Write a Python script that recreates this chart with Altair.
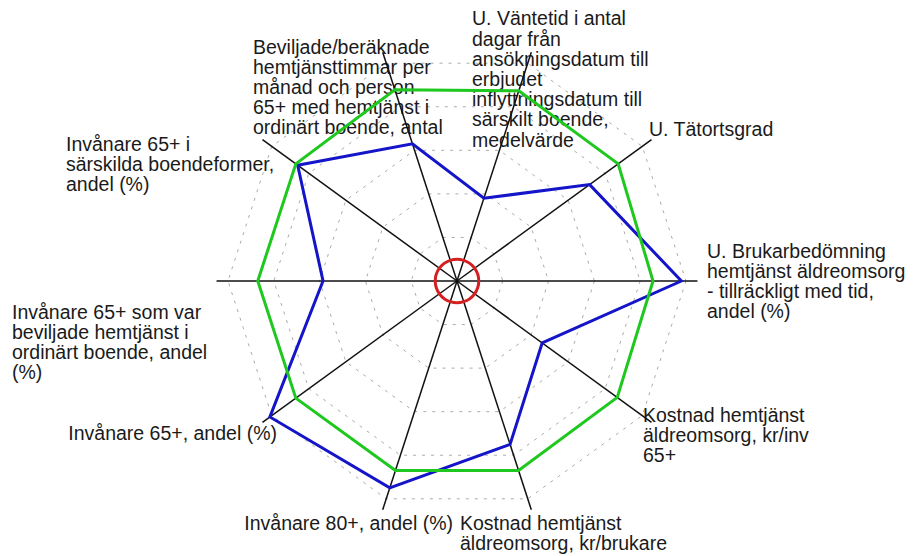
import math
import altair as alt
import pandas as pd

# ---- data -------------------------------------------------------------
categories = [
    "U. Brukarbedömning\nhemtjänst äldreomsorg\n- tillräckligt med tid,\nandel (%)",
    "Kostnad hemtjänst\näldreomsorg, kr/inv\n65+",
    "Kostnad hemtjänst\näldreomsorg, kr/brukare",
    "Invånare 80+, andel (%)",
    "Invånare 65+, andel (%)",
    "Invånare 65+ som var\nbeviljade hemtjänst i\nordinärt boende, andel\n(%)",
    "Invånare 65+ i\nsärskilda boendeformer,\nandel (%)",
    "Beviljade/beräknade\nhemtjänsttimmar per\nmånad och person\n65+ med hemtjänst i\nordinärt boende, antal",
    "U. Väntetid i antal\ndagar från\nansökningsdatum till\nerbjudet\ninflyttningsdatum till\nsärskilt boende,\nmedelvärde",
    "U. Tätortsgrad",
]
blue_values = [98, 46, 75, 95, 101, 58.5, 86, 63, 38, 71.6]
green_values = [85.6, 86.5, 87, 87, 87, 87, 87, 87.8, 87.3, 87]
red_values = [9.5] * 10
series_names = ["Kommun", "Jämförelse", "Referens"]
series_colors = ["#1414c8", "#1ec81e", "#d42020"]
grid_levels = [20, 40, 60, 80, 100]
axis_max = 105

# label block centres (page pixels) and alignment
label_px = [(707, 282), (643, 436), (460, 534), (453, 524), (277, 434),
            (12, 343), (66, 165), (253, 88), (472, 80), (649, 130)]
label_align = ["left", "left", "left", "right", "right",
               "left", "left", "left", "left", "left"]

# ---- geometry ---------------------------------------------------------
W, H = 897, 548
CX, CY = 457 - 8, 281 - 8       # centre inside the plot area
K = 2.29                        # pixels per value unit
LH = 20.2                       # line height of labels
xdom = [-CX / K, (W - CX) / K]
ydom = [-(H - CY) / K, CY / K]
n = len(categories)
angles = [math.radians(-36 * i) for i in range(n)]


def polar(v, i):
    return v * math.cos(angles[i]), v * math.sin(angles[i])


rows = []
for name, vals in zip(series_names, [blue_values, green_values, red_values]):
    for i, v in enumerate(vals):
        x, y = polar(v, i)
        rows.append({"series": name, "i": i, "x": x, "y": y})
series_df = pd.DataFrame(rows)

grid_rows = []
for lv in grid_levels:
    for i in range(n):
        x, y = polar(lv, i)
        grid_rows.append({"level": lv, "i": i, "x": x, "y": y})
grid_df = pd.DataFrame(grid_rows)

spoke_rows = []
for i in range(n):
    x, y = polar(axis_max, i)
    spoke_rows.append({"i": i, "x": 0.0, "y": 0.0, "x2": x, "y2": y})
spoke_df = pd.DataFrame(spoke_rows)

lab_rows = []
for c, (px, py), al in zip(categories, label_px, label_align):
    nl = c.count("\n") + 1
    first = py - (nl - 1) * LH / 2       # centre of first line
    lab_rows.append({"label": c, "x": (px - 8 - CX) / K, "y": (CY - (first - 8)) / K, "align": al})
lab_df = pd.DataFrame(lab_rows)

xs = alt.Scale(domain=xdom, nice=False, zero=False)
ys = alt.Scale(domain=ydom, nice=False, zero=False)
X = alt.X("x:Q", scale=xs, axis=None)
Y = alt.Y("y:Q", scale=ys, axis=None)

grid = alt.Chart(grid_df).mark_line(
    interpolate="linear-closed", color="#ababab", strokeWidth=1, strokeDash=[3, 6]
).encode(x=X, y=Y, detail="level:N", order="i:Q")

spokes = alt.Chart(spoke_df).mark_rule(color="#111111", strokeWidth=1.5).encode(
    x=X, y=Y, x2="x2:Q", y2="y2:Q"
)

color = alt.Color("series:N", scale=alt.Scale(domain=series_names, range=series_colors), legend=None)
lines = alt.Chart(series_df).transform_filter("datum.series != 'Referens'").mark_line(
    interpolate="linear-closed", strokeWidth=3
).encode(x=X, y=Y, order="i:Q", color=color)
ref_line = alt.Chart(series_df).transform_filter("datum.series == 'Referens'").mark_line(
    interpolate="cardinal-closed", strokeWidth=3
).encode(x=X, y=Y, order="i:Q", color=color)

font = dict(font="Liberation Sans", fontSize=19.5, lineBreak="\n", lineHeight=LH,
            baseline="middle", color="#1a1a1a")
left_labels = alt.Chart(lab_df).transform_filter("datum.align == 'left'").mark_text(
    align="left", **font).encode(x=X, y=Y, text="label:N")
right_labels = alt.Chart(lab_df).transform_filter("datum.align == 'right'").mark_text(
    align="right", **font).encode(x=X, y=Y, text="label:N")

chart = alt.layer(grid, left_labels, right_labels, spokes, lines, ref_line).properties(
    width=W, height=H, autosize=alt.AutoSizeParams(type="none"), padding=0
).configure_view(stroke=None)

chart.save("out.html", embed_options={"renderer": "svg", "actions": False})
